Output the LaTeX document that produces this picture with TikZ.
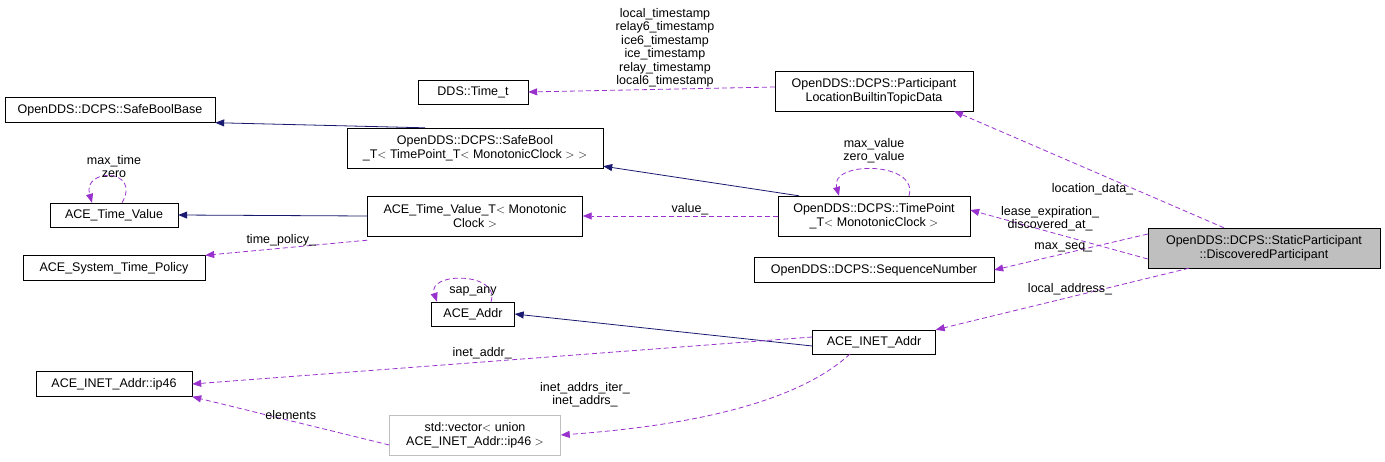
\documentclass[tikz,border=0pt]{standalone}
\usepackage{fontspec}
\setmainfont{Liberation Sans}
\usetikzlibrary{arrows.meta}
\begin{document}
\begin{tikzpicture}[x=1pt,y=-1pt,
  box/.style={draw=black,fill=white,align=center,inner sep=2pt,font=\fontsize{12.5}{14}\selectfont},
  inh/.style={draw={rgb,255:red,25;green,25;blue,112},line width=0.8pt,-{Triangle[length=9pt,width=7pt]}},
  use/.style={draw={rgb,255:red,153;green,50;blue,204},dashed,dash pattern=on 5pt off 3pt,line width=0.8pt,-{Triangle[length=9pt,width=7pt]}},
  lab/.style={font=\fontsize{12.5}{13}\selectfont,align=center,inner sep=1pt}]
\useasboundingbox (0,0) rectangle (1385,461);
\node[box,minimum width=210,minimum height=25] (sbb) at (110,110) {OpenDDS::DCPS::SafeBoolBase};
\node[box,minimum width=128,minimum height=24] (atv) at (114,215) {ACE\_Time\_Value};
\node[box,minimum width=182,minimum height=25] (stp) at (114,268) {ACE\_System\_Time\_Policy};
\node[box,minimum width=156,minimum height=25] (ip46) at (114,384) {ACE\_INET\_Addr::ip46};
\node[box,minimum width=110,minimum height=24] (tt) at (473,92) {DDS::Time\_t};
\node[box,minimum width=256,minimum height=40] (sbt) at (475,148) {OpenDDS::DCPS::SafeBool\\\_T$<$ TimePoint\_T$<$ MonotonicClock $>$ $>$};
\node[box,minimum width=215,minimum height=40] (atvt) at (475,216) {ACE\_Time\_Value\_T$<$ Monotonic\\Clock $>$};
\node[box,minimum width=83,minimum height=24] (addr) at (473,314) {ACE\_Addr};
\node[box,draw={rgb,255:red,191;green,191;blue,191},minimum width=171,minimum height=40] (vec) at (475,435) {std::vector$<$ union\\ACE\_INET\_Addr::ip46 $>$};
\node[box,minimum width=198,minimum height=40] (pl) at (874,91) {OpenDDS::DCPS::Participant\\LocationBuiltinTopicData};
\node[box,minimum width=192,minimum height=40] (tp) at (874,216) {OpenDDS::DCPS::TimePoint\\\_T$<$ MonotonicClock $>$};
\node[box,minimum width=240,minimum height=25] (sn) at (874,270) {OpenDDS::DCPS::SequenceNumber};
\node[box,minimum width=123,minimum height=24] (ia) at (874,342) {ACE\_INET\_Addr};
\node[box,fill={rgb,255:red,191;green,191;blue,191},minimum width=232,minimum height=40] (sp) at (1264,248) {OpenDDS::DCPS::StaticParticipant\\::DiscoveredParticipant};
% inheritance
\draw[inh] ([xshift=-50]sbt.north) -- ([xshift=0]sbb.south east);
\draw[inh] ([xshift=-75]tp.north) -- ([yshift=2]sbt.south east);
\draw[inh] (atvt.west) -- (atv.east);
\draw[inh] ([yshift=-4]ia.west) -- (addr.east);
% usage
\coordinate (a1) at ([xshift=8]atv.north);
\coordinate (a2) at ([xshift=-22]atv.north);
\draw[use] (a1) .. controls +(20,-35) and +(-10,-35) .. (a2);
\node[lab] at (114,167) {max\_time\\zero};
\draw[use] ([yshift=-4]atvt.south west) -- node[lab,above,pos=0.5,xshift=-5] {time\_policy\_} (stp.north east);
\draw[use] (tp.west) -- node[lab,above,pos=0.45] {value\_} (atvt.east);
\coordinate (t1) at ([xshift=35]tp.north);
\coordinate (t2) at ([xshift=-35]tp.north);
\draw[use] (t1) .. controls +(10,-35) and +(-10,-35) .. (t2);
\node[lab] at (874,151) {max\_value\\zero\_value};
\draw[use] ([yshift=4]pl.west) -- (tt.east);
\node[lab,font=\fontsize{12.5}{13.5}\selectfont] at (665,48) {local\_timestamp\\relay6\_timestamp\\ice6\_timestamp\\ice\_timestamp\\relay\_timestamp\\local6\_timestamp};
\coordinate (s1) at ([xshift=18]addr.north);
\coordinate (s2) at ([xshift=-36]addr.north);
\draw[use] (s1) .. controls +(10,-30) and +(-10,-30) .. (s2);
\node[lab] at (473,291) {sap\_any};
\draw[use] ([yshift=5]ia.west) -- node[lab,above,pos=0.5,xshift=-20] {inet\_addr\_} (ip46.east);
\draw[use] (850,354) .. controls (800,400) and (700,425) .. (vec.east);
\node[lab] at (585,395) {inet\_addrs\_iter\_\\inet\_addrs\_};
\draw[use] ([yshift=-10]vec.west) -- node[lab,above,pos=0.5] {elements} (ip46.south east);
\draw[use] ([xshift=-40]sp.north) -- node[lab,pos=0.45,xshift=-10,yshift=-14] {location\_data\_} ([xshift=80]pl.south);
\draw[use] ([yshift=-11]sp.west) -- node[lab,above,pos=0.55] {lease\_expiration\_\\discovered\_at\_} ([yshift=6]tp.east);
\draw[use] ([yshift=14]sp.west) -- node[lab,above,pos=0.55] {max\_seq\_} (sn.east);
\draw[use] ([xshift=-75]sp.south) -- node[lab,above,pos=0.45,xshift=-5] {local\_address\_} (ia.north east);
\end{tikzpicture}
\end{document}
